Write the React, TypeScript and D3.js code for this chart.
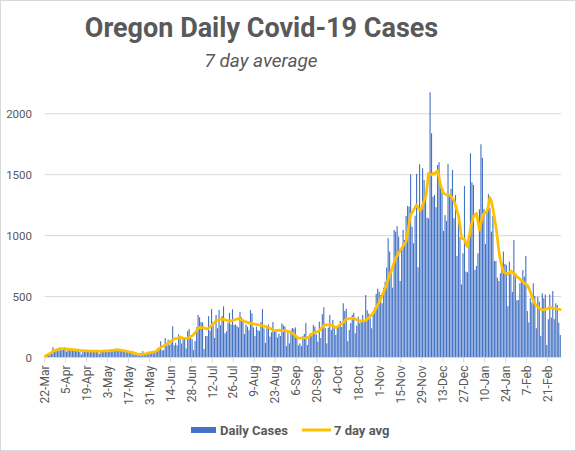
import React from "react";
import * as d3 from "d3";

// Daily cases, weekly rows starting Sunday 22-Mar-2020
const dailyCases: number[] = [
  12, 20, 26, 34, 40, 85, 48,
  60, 52, 68, 58, 65, 62, 84,
  48, 62, 58, 70, 64, 56, 72,
  52, 60, 46, 24, 55, 58, 62,
  50, 56, 48, 60, 52, 56, 46,
  52, 28, 58, 55, 62, 60, 50,
  56, 60, 64, 58, 68, 72, 60,
  58, 62, 56, 54, 50, 46, 52,
  40, 48, 30, 24, 30, 20, 18,
  22, 16, 52, 24, 30, 36, 40,
  38, 44, 42, 46, 52, 78, 60,
  134, 58, 62, 160, 98, 146, 104,
  118, 256, 100, 120, 100, 190, 157,
  115, 157, 162, 75, 217, 234, 180,
  150, 62, 135, 248, 349, 330, 291,
  288, 70, 176, 176, 340, 220, 398,
  288, 160, 349, 240, 390, 265, 340,
  420, 198, 215, 284, 365, 271, 395,
  268, 271, 258, 247, 374, 330, 312,
  193, 271, 253, 224, 390, 362, 247,
  176, 253, 224, 218, 291, 398, 240,
  119, 247, 271, 171, 207, 291, 212,
  225, 164, 196, 176, 280, 264, 255,
  94, 225, 116, 223, 242, 236, 247,
  176, 100, 116, 94, 176, 193, 283,
  103, 157, 199, 185, 267, 253, 190,
  130, 294, 160, 355, 412, 240, 116,
  245, 349, 226, 308, 240, 185, 259,
  267, 300, 250, 445, 382, 399, 134,
  226, 283, 349, 365, 199, 262, 335,
  281, 300, 349, 308, 513, 388, 360,
  322, 240, 349, 409, 522, 565, 540,
  513, 445, 573, 623, 737, 979, 869,
  690, 573, 1047, 1033, 1078, 992, 628,
  883, 1047, 964, 1162, 1244, 1238, 1504,
  1074, 937, 1164, 1507, 740, 1586, 1211,
  1553, 1457, 1307, 1148, 1142, 2176, 1840,
  1320, 1334, 1233, 1580, 1603, 1430, 1356,
  1039, 1170, 1121, 1590, 1329, 1384, 1540,
  1143, 1334, 832, 1176, 987, 600, 855,
  1408, 705, 699, 1006, 1676, 1438, 1416,
  718, 751, 855, 1216, 1750, 1640, 1219,
  932, 1197, 1340, 1225, 1033, 1162, 792,
  792, 655, 628, 690, 773, 869, 768,
  760, 421, 787, 690, 539, 964, 681,
  471, 471, 609, 623, 718, 664, 833,
  381, 288, 486, 451, 609, 505, 240,
  499, 458, 176, 527, 486, 517, 103,
  314, 517, 328, 546, 314, 445, 431,
  285, 185,
];

// 7 day average line
const avg7: number[] = [
  12, 18, 26, 32, 40, 50, 56,
  62, 67, 70, 72, 72, 71, 70,
  69, 68, 67, 66, 65, 63, 62,
  61, 60, 58, 57, 56, 56, 55,
  54, 54, 53, 53, 52, 52, 52,
  52, 51, 51, 52, 53, 54, 55,
  55, 56, 58, 59, 61, 62, 62,
  62, 61, 59, 57, 55, 52, 49,
  46, 44, 42, 38, 34, 30, 26,
  26, 26, 27, 28, 30, 34, 38,
  40, 42, 44, 45, 52, 62, 75,
  82, 88, 95, 103, 110, 118, 126,
  135, 142, 152, 155, 158, 162, 165,
  163, 160, 158, 157, 160, 165, 170,
  176, 190, 205, 222, 240, 245, 245,
  245, 243, 238, 234, 240, 250, 262,
  275, 288, 300, 305, 310, 312, 313,
  313, 310, 305, 300, 298, 300, 304,
  308, 312, 316, 319, 316, 310, 302,
  296, 292, 288, 284, 280, 278, 276,
  274, 272, 270, 266, 263, 261, 258,
  254, 250, 246, 240, 233, 226, 220,
  220, 222, 224, 222, 220, 220, 220,
  218, 214, 210, 206, 200, 190, 178,
  165, 160, 158, 160, 162, 160, 158,
  162, 170, 182, 192, 200, 206, 210,
  212, 220, 235, 250, 262, 267, 268,
  267, 267, 266, 262, 252, 245, 250,
  260, 270, 275, 285, 300, 316, 318,
  320, 322, 322, 320, 316, 310, 305,
  303, 301, 300, 300, 305, 315, 328,
  340, 349, 365, 385, 405, 431, 455,
  480, 510, 540, 565, 600, 640, 690,
  705, 740, 780, 814, 835, 860, 877,
  895, 915, 935, 951, 1020, 1100, 1170,
  1190, 1210, 1230, 1252, 1230, 1210, 1215,
  1250, 1285, 1313, 1400, 1512, 1505, 1499,
  1512, 1505, 1520, 1532, 1480, 1416, 1380,
  1350, 1340, 1335, 1334, 1334, 1320, 1305,
  1288, 1250, 1200, 1170, 1080, 979, 975,
  970, 930, 910, 980, 1061, 1110, 1156,
  1170, 1183, 1120, 1047, 1100, 1165, 1180,
  1190, 1197, 1250, 1313, 1280, 1225, 1150,
  1074, 980, 869, 800, 750, 705, 695,
  690, 683, 695, 711, 700, 690, 680,
  664, 655, 645, 630, 623, 610, 600,
  595, 570, 540, 500, 470, 445, 425,
  417, 405, 396, 392, 390, 395, 400,
  405, 410, 408, 404, 400, 402, 398,
  396, 394,
];

const tickLabels: string[] = [
  "22-Mar", "5-Apr", "19-Apr", "3-May", "17-May", "31-May", "14-Jun",
  "28-Jun", "12-Jul", "26-Jul", "9-Aug", "23-Aug", "6-Sep", "20-Sep",
  "4-Oct", "18-Oct", "1-Nov", "15-Nov", "29-Nov", "13-Dec", "27-Dec",
  "10-Jan", "24-Jan", "7-Feb", "21-Feb",
];
const tickEvery = 14;
const yTicks: number[] = [0, 500, 1000, 1500, 2000];

const title = "Oregon Daily Covid-19 Cases";
const subtitle = "7 day average";
const seriesNames = ["Daily Cases", "7 day avg"];

export default function App() {
  const W = 576, H = 451;
  const left = 44.7, right = 561;
  const n = dailyCases.length;
  const idx = d3.range(n);
  const x = d3.scaleBand<number>().domain(idx).range([left, right]).paddingInner(0.26).paddingOuter(0.13);
  const step = x.step();
  const y = d3.scaleLinear().domain([0, 2000]).range([357.5, 113.8]);
  const line = d3
    .line<number>()
    .x((_, i) => (x(i) as number) + x.bandwidth() / 2)
    .y((v) => y(v))
    .curve(d3.curveLinear);
  const tickX = (i: number) => (x(i) as number) - step * 0.13;
  const grey = "#595959";
  const font = "Roboto, 'Open Sans', sans-serif";

  return (
    <svg
      width={W}
      height={H}
      style={{ position: "absolute", left: 0, top: 0, background: "#fff" }}
      fontFamily={font}
    >
      <rect x={0.5} y={0.5} width={W - 1} height={H - 1} fill="#fff" stroke="#D9D9D9" />
      <text x={261.5} y={36.5} textAnchor="middle" fontSize={27} fontWeight={700} fill={grey}>
        {title}
      </text>
      <text x={261} y={67} textAnchor="middle" fontSize={19} fontStyle="italic" fill={grey}>
        {subtitle}
      </text>
      {yTicks.map((t) => (
        <g key={t}>
          {t > 0 && (
            <line x1={left} x2={right} y1={y(t)} y2={y(t)} stroke="#D9D9D9" strokeWidth={1} />
          )}
          <text x={32} y={y(t)} dy="0.35em" textAnchor="end" fontSize={11.5} fill={grey}>
            {t}
          </text>
        </g>
      ))}
      {dailyCases.map((v, i) => (
        <rect key={i} x={x(i)} y={y(v)} width={x.bandwidth()} height={y(0) - y(v)} fill="#4472C4" />
      ))}
      <line x1={left} x2={right} y1={y(0)} y2={y(0)} stroke="#D9D9D9" strokeWidth={1} />
      {tickLabels.map((lab, k) => {
        const tx = tickX(k * tickEvery);
        return (
          <g key={lab}>
            <line x1={tx} x2={tx} y1={y(0)} y2={y(0) + 5} stroke="#D9D9D9" />
            <text
              transform={`translate(${tx},${y(0) + 8}) rotate(-90)`}
              textAnchor="end"
              dy="0.35em"
              fontSize={12}
              fill={grey}
            >
              {lab}
            </text>
          </g>
        );
      })}
      <path d={line(avg7) || ""} fill="none" stroke="#FFC000" strokeWidth={2.75} strokeLinejoin="round" strokeLinecap="round" />
      <rect x={191} y={427} width={25} height={6} fill="#4472C4" />
      <text x={220} y={435} fontSize={13} fontWeight={700} fill={grey}>
        {seriesNames[0]}
      </text>
      <line x1={302} x2={331} y1={430} y2={430} stroke="#FFC000" strokeWidth={3} />
      <text x={334} y={435} fontSize={13} fontWeight={700} fill={grey}>
        {seriesNames[1]}
      </text>
    </svg>
  );
}
